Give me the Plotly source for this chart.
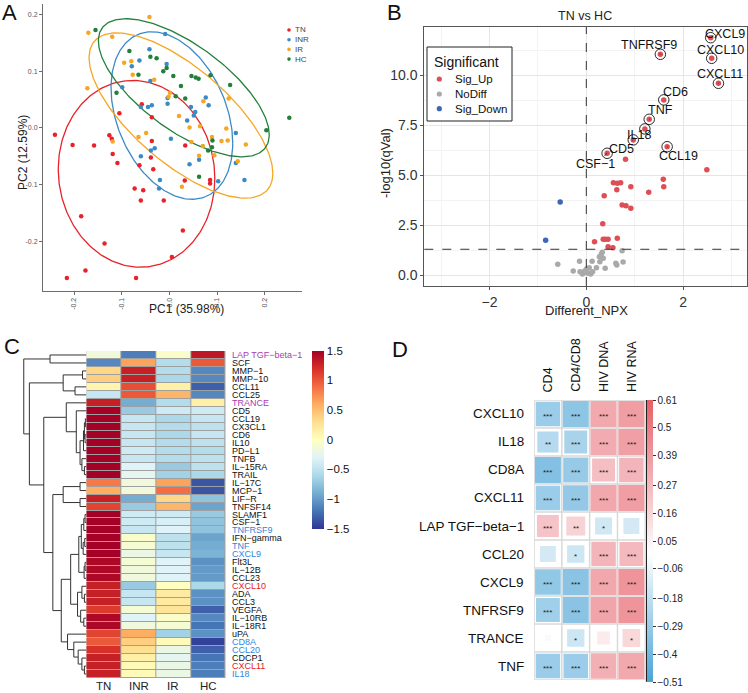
import numpy as np
import plotly.graph_objects as go

W, H = 748, 693
FONT = "Liberation Sans, Arial, Helvetica, sans-serif"


def px(x):
    return x / W


def py(y):
    return 1 - y / H


# ---------------- Panel A : PCA ----------------
pca_groups = ["TN", "INR", "IR", "HC"]
pca_colors = ["#E8212B", "#3A8AC6", "#F5A623", "#23803C"]
tn_pc1 = [-0.240, -0.203, -0.158, -0.126, -0.121, -0.119, -0.109, -0.105, -0.058, -0.037,
          -0.037, -0.039, -0.034, -0.063, -0.073, -0.055, -0.060, -0.012, 0.033, 0.032,
          0.085, 0.085, -0.185, -0.136, 0.028, 0.005, -0.215, -0.176, -0.070]
tn_pc2 = [-0.012, -0.030, -0.031, -0.013, -0.019, -0.046, -0.062, 0.026, 0.042, 0.019,
          -0.023, -0.052, -0.073, -0.066, -0.107, -0.110, -0.128, -0.128, -0.031, -0.093,
          -0.092, -0.098, -0.156, -0.204, -0.181, -0.228, -0.265, -0.252, -0.265]
inr_pc1 = [-0.009, -0.042, -0.063, -0.079, -0.099, -0.006, -0.004, -0.004, 0.076, 0.082,
           -0.045, -0.037, -0.060, 0.054, 0.051, 0.045, 0.037, 0.003, -0.031, -0.039,
           -0.060, -0.020, -0.022, 0.042, 0.062, 0.102, 0.139, 0.157, 0.139, -0.040]
inr_pc2 = [0.166, 0.139, 0.119, 0.109, 0.072, 0.113, 0.053, 0.043, 0.054, 0.040,
           0.037, 0.040, 0.037, 0.028, 0.022, 0.037, 0.013, -0.019, -0.036, -0.040,
           -0.050, -0.092, -0.107, -0.064, -0.056, -0.094, -0.062, -0.092, -0.009, 0.083]
ir_pc1 = [-0.042, -0.170, -0.120, -0.172, -0.095, -0.080, -0.077, -0.032, -0.065, -0.049,
          -0.119, 0.001, -0.002, 0.020, 0.042, 0.064, 0.046, 0.070, 0.062, 0.089,
          0.094, 0.109, 0.119, 0.122, 0.143, 0.160, 0.124, 0.026, 0.071]
ir_pc2 = [0.196, 0.168, 0.161, 0.070, 0.115, 0.118, 0.094, 0.085, -0.016, -0.009,
          -0.024, 0.062, 0.055, 0.021, 0.001, 0.003, -0.025, -0.032, -0.049, -0.016,
          -0.048, -0.023, -0.001, -0.022, -0.059, -0.029, 0.052, -0.104, 0.047]
hc_pc1 = [-0.155, -0.084, -0.040, -0.027, -0.065, -0.013, -0.006, 0.008, 0.024, 0.033,
          0.046, 0.055, 0.061, 0.086, 0.127, -0.111, 0.251, 0.203, 0.090, 0.089,
          0.081, 0.062, 0.013]
hc_pc2 = [0.173, 0.136, 0.126, 0.123, 0.094, 0.100, 0.106, 0.092, 0.074, 0.052,
          0.092, 0.089, 0.087, 0.093, 0.076, 0.062, 0.018, -0.004, -0.022, -0.034,
          -0.040, -0.086, 0.056]
# confidence ellipses: centre, half-width, half-height, tilt (cos of phase)
ell_cx = [-0.069, 0.005, 0.024, 0.030]
ell_cy = [-0.081, 0.022, 0.022, 0.071]
ell_rx = [0.164, 0.1275, 0.1925, 0.179]
ell_ry = [0.165, 0.148, 0.146, 0.122]
ell_tilt = [-0.05, -0.33, -0.70, -0.68]
pca_ticks = [-0.2, -0.1, 0.0, 0.1, 0.2]

# ---------------- Panel B : volcano ----------------
lab_names = ["CXCL9", "CXCL10", "CXCL11", "TNFRSF9", "CD6", "TNF", "IL18", "CD5", "CSF−1", "CCL19"]
lab_npx = [2.57, 2.59, 2.73, 1.53, 1.60, 1.30, 1.21, 0.97, 0.43, 1.67]
lab_q = [11.88, 10.85, 9.60, 11.05, 8.77, 7.80, 7.32, 6.77, 6.10, 6.43]
up_npx = [0.81, 2.49, 1.59, 1.60, 0.56, 0.64, 0.71, 0.63, 0.92, 1.29, 0.37, 0.74, 0.82,
          0.92, 0.34, 0.17, 0.35, 0.39, 0.45, 0.64, 0.45, 0.55]
up_q = [5.80, 5.28, 4.80, 4.43, 4.63, 4.60, 4.63, 4.28, 4.43, 4.15, 3.98, 3.52, 3.48,
        3.35, 2.58, 1.68, 1.80, 1.80, 1.80, 1.85, 1.43, 1.38]
nd_npx = [-0.59, -0.27, -0.13, -0.08, -0.05, 0.04, 0.09, 0.13, 0.21, -0.14, 0.12, 0.28,
          0.31, 0.27, 0.35, 0.39, 0.63, 0.61, 0.76, 0.74, 0.06, 0.01, -0.03, 0.33]
nd_q = [0.55, 0.22, 0.18, 0.07, 0.13, 0.10, 0.07, 0.18, 0.38, 0.70, 0.70, 0.68,
        1.07, 0.93, 0.85, 0.35, 0.52, 0.60, 0.67, 1.23, 0.38, 0.33, 0.23, 1.15]
down_npx = [-0.54, -0.84]
down_q = [3.67, 1.75]
q_cut = -np.log10(0.05)

# ---------------- Panel C : heatmap ----------------
hm_rows = ["LAP TGF−beta−1", "SCF", "MMP−1", "MMP−10", "CCL11", "CCL25", "TRANCE", "CD5",
           "CCL19", "CX3CL1", "CD6", "IL10", "PD−L1", "TNFB", "IL−15RA", "TRAIL", "IL−17C",
           "MCP−1", "LIF−R", "TNFSF14", "SLAMF1", "CSF−1", "TNFRSF9", "IFN−gamma", "TNF",
           "CXCL9", "Flt3L", "IL−12B", "CCL23", "CXCL10", "ADA", "CCL3", "VEGFA", "IL−10RB",
           "IL−18R1", "uPA", "CD8A", "CCL20", "CDCP1", "CXCL11", "IL18"]
hm_row_colors = ["#A83CB0", "#111", "#111", "#111", "#111", "#111", "#A83CB0", "#111",
                 "#111", "#111", "#111", "#111", "#111", "#111", "#111", "#111", "#111",
                 "#111", "#111", "#111", "#111", "#111", "#2E86DE", "#111", "#2E86DE",
                 "#2E86DE", "#111", "#111", "#111", "#E41A1C", "#111", "#111", "#111", "#111",
                 "#111", "#111", "#2E86DE", "#2E86DE", "#111", "#E41A1C", "#2E86DE"]
hm_cols = ["TN", "INR", "IR", "HC"]
hm_TN = [-0.15, -1.1, 0.35, 0.4, 0.1, -0.45, 1.3, 1.5, 1.5, 1.5, 1.5, 1.5, 1.5, 1.5, 1.5, 1.5,
         0.85, 0.6, 1.3, 1.1, 1.5, 1.5, 1.5, 1.5, 1.5, 1.5, 1.45, 1.45, 1.45, 1.3, 1.3, 1.3,
         1.15, 1.45, 1.45, 1.1, 1.0, 1.2, 1.3, 1.3, 1.3]
hm_INR = [-1.15, 0.65, 1.3, 1.3, 1.05, 1.0, -0.9, -0.7, -0.45, -0.45, -0.45, -0.45, -0.4,
          -0.45, -0.3, -0.25, -0.15, -0.15, -0.9, -0.7, -0.4, -0.4, -0.45, -0.05, -0.1, -0.2,
          -0.1, -0.15, -0.15, -0.7, -0.45, -0.45, -0.1, -0.3, -0.15, 0.6, 0.4, 0.3, 0.15,
          0.05, 0.05]
hm_IR = [-0.05, -0.55, -0.55, -0.6, 0.15, 0.55, -0.55, -0.4, -0.6, -0.55, -0.6, -0.55, -0.55,
         -0.55, -0.7, -0.65, 0.65, 0.9, 0.35, 0.55, -0.4, -0.35, -0.3, -0.5, -0.5, -0.45,
         -0.3, -0.3, -0.3, 0.0, 0.2, 0.2, 0.25, -0.05, -0.1, -0.65, 0.05, -0.2, -0.25, -0.2,
         -0.2]
hm_HC = [1.35, 1.0, -1.1, -1.1, -1.3, -1.1, 0.15, -0.4, -0.45, -0.5, -0.45, -0.5, -0.55, -0.5,
         -0.5, -0.6, -1.35, -1.35, -0.75, -0.95, -0.7, -0.75, -0.75, -0.95, -0.9, -0.85, -1.05,
         -1.0, -1.0, -0.6, -1.05, -1.05, -1.3, -1.1, -1.2, -1.05, -1.45, -1.3, -1.2, -1.15,
         -1.15]
hm_ticks = [1.5, 1, 0.5, 0, -0.5, -1, -1.5]
# row dendrogram, hclust style merge table (negative = leaf, positive = earlier merge)
dend_left = [-3, -5, 1, -1, -9, -11, 5, 7, -15, -14, 8, -8, -7, -17, -19, 14, -21, -23, -24,
             -26, 18, -27, -29, 21, -31, -30, -34, -33, 26, 24, -40, -39, -38, -37, -36, 30,
             16, 13, 3, 4]
dend_right = [-4, -6, 2, -2, -10, -12, 6, -13, -16, 9, 10, 11, 12, -18, -20, 15, -22, 17, -25,
              19, 20, -28, 22, 23, -32, 25, -35, 27, 28, 29, -41, 31, 32, 33, 34, 35, 36, 37,
              38, 39]
dend_height = [0.06, 0.18, 0.37, 0.58, 0.015, 0.02, 0.03, 0.045, 0.03, 0.07, 0.10, 0.16, 0.32,
               0.10, 0.10, 0.37, 0.02, 0.04, 0.025, 0.05, 0.08, 0.02, 0.035, 0.12, 0.03, 0.07,
               0.04, 0.09, 0.14, 0.25, 0.03, 0.07, 0.13, 0.20, 0.30, 0.40, 0.535, 0.68, 0.91,
               1.0]

# ---------------- Panel D : correlation ----------------
cor_rows = ["CXCL10", "IL18", "CD8A", "CXCL11", "LAP TGF−beta−1", "CCL20", "CXCL9", "TNFRSF9",
            "TRANCE", "TNF"]
cor_cols = ["CD4", "CD4/CD8", "HIV DNA", "HIV RNA"]
r_CD4 = [-0.40, -0.30, -0.50, -0.40, 0.32, -0.17, -0.44, -0.38, -0.03, -0.40]
r_CD4CD8 = [-0.46, -0.35, -0.42, -0.43, 0.24, -0.20, -0.47, -0.47, -0.20, -0.40]
r_DNA = [0.47, 0.45, 0.35, 0.48, -0.19, 0.40, 0.48, 0.49, 0.11, 0.43]
r_RNA = [0.53, 0.52, 0.40, 0.53, -0.17, 0.38, 0.58, 0.58, 0.21, 0.47]
p_CD4 = ["***", "**", "***", "***", "***", "", "***", "***", "", "***"]
p_CD4CD8 = ["***", "***", "***", "***", "**", "*", "***", "***", "*", "***"]
p_DNA = ["***", "***", "***", "***", "*", "***", "***", "***", "", "***"]
p_RNA = ["***", "***", "***", "***", "", "***", "***", "***", "*", "***"]
cor_min, cor_max = -0.51, 0.61
cor_ticks = [0.61, 0.5, 0.39, 0.27, 0.16, 0.05, -0.06, -0.18, -0.29, -0.4, -0.51]


def fmt(v):
    s = ("%g" % v)
    return s.replace("-", "−")


fig = go.Figure()
ann = []
shapes = []

# ===== Panel A =====
t = np.linspace(0, 2 * np.pi, 240)
pts = [(tn_pc1, tn_pc2), (inr_pc1, inr_pc2), (ir_pc1, ir_pc2), (hc_pc1, hc_pc2)]
for i, g in enumerate(pca_groups):
    phi = np.arccos(ell_tilt[i])
    ex = ell_cx[i] + ell_rx[i] * np.cos(t)
    ey = ell_cy[i] + ell_ry[i] * np.cos(t - phi)
    fig.add_trace(go.Scatter(x=ex, y=ey, mode="lines", line=dict(color=pca_colors[i], width=1.3),
                             showlegend=False, hoverinfo="skip", xaxis="x", yaxis="y"))
for i, g in enumerate(pca_groups):
    fig.add_trace(go.Scatter(x=pts[i][0], y=pts[i][1], mode="markers", name=g,
                             marker=dict(color=pca_colors[i], size=4.5),
                             showlegend=False, xaxis="x", yaxis="y"))
for i, g in enumerate(pca_groups):
    yy = 30 + i * 9.7
    shapes.append(dict(type="circle", xref="paper", yref="paper", x0=px(287.2), x1=px(290.8),
                       y0=py(yy + 1.8), y1=py(yy - 1.8), fillcolor=pca_colors[i], line=dict(width=0)))
    ann.append(dict(text=g, x=px(292.5), y=py(yy), xref="paper", yref="paper", showarrow=False,
                    xanchor="left", yanchor="middle", font=dict(size=8, color="#444")))
ann.append(dict(text="PC1 (35.98%)", x=px(186), y=py(309), xref="paper", yref="paper",
                showarrow=False, font=dict(size=12, color="#222")))
ann.append(dict(text="PC2 (12.59%)", x=px(23), y=py(153), xref="paper", yref="paper",
                showarrow=False, textangle=-90, font=dict(size=12, color="#222")))

# ===== Panel B =====
fig.add_trace(go.Scatter(x=nd_npx, y=nd_q, mode="markers", marker=dict(color="#A9A9A9", size=5.5),
                         showlegend=False, xaxis="x2", yaxis="y2"))
fig.add_trace(go.Scatter(x=down_npx, y=down_q, mode="markers", marker=dict(color="#3D66B5", size=5.5),
                         showlegend=False, xaxis="x2", yaxis="y2"))
fig.add_trace(go.Scatter(x=up_npx + lab_npx, y=up_q + lab_q, mode="markers",
                         marker=dict(color="#DE4E55", size=5.5),
                         showlegend=False, xaxis="x2", yaxis="y2"))
fig.add_trace(go.Scatter(x=lab_npx, y=lab_q, mode="markers",
                         marker=dict(color="rgba(0,0,0,0)", size=10.5, line=dict(color="#111", width=0.9)),
                         showlegend=False, xaxis="x2", yaxis="y2", hoverinfo="skip"))
lab_off = {"CXCL9": (14, -4), "CXCL10": (9, -8), "CXCL11": (2, -9), "TNFRSF9": (-11, -9),
           "CD6": (12, -8), "TNF": (11, -9), "IL18": (-6, 6), "CD5": (-12, 9), "CSF−1": (-12, 11),
           "CCL19": (11, 9)}
for n, xv, yv in zip(lab_names, lab_npx, lab_q):
    dx, dy = lab_off[n]
    ann.append(dict(text=n, x=xv, y=yv, xref="x2", yref="y2", showarrow=True, arrowhead=0,
                    arrowwidth=0.8, arrowcolor="#111", ax=dx, ay=dy, standoff=0,
                    font=dict(size=12.5, color="#111")))
shapes.append(dict(type="line", xref="x2", yref="y2 domain", x0=0, x1=0, y0=0, y1=1,
                   line=dict(color="#333", width=1, dash="dash")))
shapes.append(dict(type="line", xref="x2 domain", yref="y2", x0=0, x1=1, y0=q_cut, y1=q_cut,
                   line=dict(color="#333", width=1, dash="dash")))
ann.append(dict(text="TN vs HC", x=px(585), y=py(16), xref="paper", yref="paper", showarrow=False,
                font=dict(size=12.5, color="#222")))
ann.append(dict(text="-log10(qVal)", x=px(385), y=py(163), xref="paper", yref="paper",
                showarrow=False, textangle=-90, font=dict(size=13, color="#222")))
ann.append(dict(text="Different_NPX", x=px(586.7), y=py(311), xref="paper", yref="paper",
                showarrow=False, font=dict(size=13, color="#222")))
# legend box
shapes.append(dict(type="rect", xref="paper", yref="paper", x0=px(427), x1=px(512), y0=py(121),
                   y1=py(47), line=dict(color="#222", width=1), fillcolor="white"))
ann.append(dict(text="Significant", x=px(432), y=py(61.5), xref="paper", yref="paper",
                showarrow=False, xanchor="left", font=dict(size=14, color="#111")))
for lbl, col, yy in [("Sig_Up", "#DE4E55", 79), ("NoDiff", "#A9A9A9", 94), ("Sig_Down", "#3D66B5", 108.7)]:
    shapes.append(dict(type="circle", xref="paper", yref="paper", x0=px(436.7), x1=px(441.9),
                       y0=py(yy + 2.6), y1=py(yy - 2.6), fillcolor=col, line=dict(width=0)))
    ann.append(dict(text=lbl, x=px(453), y=py(yy), xref="paper", yref="paper", showarrow=False,
                    xanchor="left", font=dict(size=11.5, color="#111")))

# ===== Panel C =====
z = [[a, b, c, d] for a, b, c, d in zip(hm_TN, hm_INR, hm_IR, hm_HC)]
rdylbu = ["#313695", "#4575B4", "#74ADD1", "#ABD9E9", "#E0F3F8", "#FFFFBF", "#FEE090",
          "#FDAE61", "#F46D43", "#D73027", "#A50026"]
cs = [[i / 10, c] for i, c in enumerate(rdylbu)]
shapes.append(dict(type="rect", xref="x3", yref="y3", x0=-0.5, x1=3.5, y0=-0.5, y1=len(hm_rows) - 0.5,
                   fillcolor="#A0A0A0", line=dict(width=0), layer="below"))
fig.add_trace(go.Heatmap(z=z, x=list(range(4)), y=list(range(len(hm_rows))), colorscale=cs,
                         zmin=-1.5, zmax=1.5, xgap=1, ygap=1, xaxis="x3", yaxis="y3",
                         colorbar=dict(x=px(311.7), xanchor="left", y=py(350.7), yanchor="top",
                                       len=177.6 / H, lenmode="fraction", thickness=11.6,
                                       thicknessmode="pixels", xpad=0, ypad=0, outlinewidth=0,
                                       tickvals=hm_ticks, ticktext=[fmt(v) for v in hm_ticks],
                                       ticks="", tickfont=dict(size=11.5, color="#111"))))
for i, (n, c) in enumerate(zip(hm_rows, hm_row_colors)):
    ann.append(dict(text=n, x=px(229.5), y=i, xref="paper", yref="y3", showarrow=False,
                    xanchor="left", yanchor="middle", font=dict(size=9, color=c)))
for j, n in enumerate(hm_cols):
    ann.append(dict(text=n, x=j, y=py(685.5), xref="x3", yref="paper", showarrow=False,
                    yanchor="middle", font=dict(size=11.5, color="#222")))
# dendrogram
pos, hgt = {}, {}
dx_, dy_ = [], []
for k, (a, b, h) in enumerate(zip(dend_left, dend_right, dend_height), start=1):
    ya, ha = (-a - 1, 0.0) if a < 0 else (pos[a], hgt[a])
    yb, hb = (-b - 1, 0.0) if b < 0 else (pos[b], hgt[b])
    dx_ += [ha, h, h, hb, None]
    dy_ += [ya, ya, yb, yb, None]
    pos[k] = (ya + yb) / 2
    hgt[k] = h
fig.add_trace(go.Scatter(x=dx_, y=dy_, mode="lines", line=dict(color="#333", width=1),
                         showlegend=False, hoverinfo="skip", xaxis="x4", yaxis="y4"))

# ===== Panel D =====
R = [r_CD4, r_CD4CD8, r_DNA, r_RNA]
P = [p_CD4, p_CD4CD8, p_DNA, p_RNA]
cx, cy, cr, csz = [], [], [], []
for j in range(4):
    for i in range(len(cor_rows)):
        v = R[j][i]
        cx.append(j)
        cy.append(i)
        cr.append(v)
        csz.append(26 * min(1.0, np.sqrt(abs(v) / 0.45)))
mid = (0 - cor_min) / (cor_max - cor_min)
cor_cs = [[0, "#4AA3D6"], [mid, "#FFFFFF"], [1, "#E65F68"]]
fig.add_trace(go.Scatter(x=cx, y=cy, mode="markers", xaxis="x5", yaxis="y5", showlegend=False,
                         marker=dict(symbol="square", size=csz, color=cr, colorscale=cor_cs,
                                     cmin=cor_min, cmax=cor_max, line=dict(width=0),
                                     colorbar=dict(x=px(646.7), xanchor="left", y=py(400), yanchor="top",
                                                   len=281.7 / H, lenmode="fraction", thickness=6,
                                                   thicknessmode="pixels", xpad=0, ypad=0,
                                                   outlinewidth=0, tickvals=cor_ticks,
                                                   ticktext=[fmt(v) for v in cor_ticks],
                                                   ticks="outside", ticklen=3, tickcolor="#333",
                                                   tickfont=dict(size=10, color="#222")))))
for j in range(4):
    for i in range(len(cor_rows)):
        if P[j][i]:
            ann.append(dict(text=P[j][i], x=j, y=i, xref="x5", yref="y5", showarrow=False,
                            yshift=-2.5, font=dict(size=8, color="#222")))
for i, n in enumerate(cor_rows):
    ann.append(dict(text=n, x=px(526), y=i, xref="paper", yref="y5", showarrow=False,
                    xanchor="right", yanchor="middle", font=dict(size=13.5, color="#111")))
for j, n in enumerate(cor_cols):
    ann.append(dict(text=n, x=j, y=py(394), xref="x5", yref="paper", showarrow=False,
                    textangle=-90, yanchor="bottom", font=dict(size=12.5, color="#111")))
for k in range(5):
    shapes.append(dict(type="line", xref="x5", yref="y5", x0=k - 0.5, x1=k - 0.5, y0=-0.5,
                       y1=len(cor_rows) - 0.5, line=dict(color="#D9D9D9", width=1.5), layer="below"))
for k in range(len(cor_rows) + 1):
    shapes.append(dict(type="line", xref="x5", yref="y5", x0=-0.5, x1=3.5, y0=k - 0.5,
                       y1=k - 0.5, line=dict(color="#D9D9D9", width=1.5), layer="below"))
shapes.append(dict(type="line", xref="paper", yref="paper", x0=px(646.5), x1=px(646.5),
                   y0=py(400), y1=py(681.7), line=dict(color="#222", width=1.2)))

# panel letters
for L, xx, yy in [("A", 9, 13), ("B", 394, 13), ("C", 12, 346), ("D", 400, 349)]:
    ann.append(dict(text=L, x=px(xx), y=py(yy), xref="paper", yref="paper", showarrow=False,
                    font=dict(size=22, color="#111")))

# explicit anchors (plotly's "auto" anchoring would shift paper-referenced texts)
for a in ann:
    if not a.get("showarrow"):
        a.setdefault("xanchor", "center")
        a.setdefault("yanchor", "middle")

noax = dict(showgrid=False, zeroline=False, showticklabels=False, ticks="", showline=False)
fig.update_layout(
    width=W, height=H, margin=dict(l=0, r=0, t=0, b=0, pad=0, autoexpand=False),
    paper_bgcolor="white",
    plot_bgcolor="rgba(0,0,0,0)", font=dict(family=FONT), showlegend=False,
    xaxis=dict(domain=[px(43), px(301.7)], range=[-0.265, 0.277], anchor="y", showline=True,
               linecolor="#6E6E6E", ticks="outside", ticklen=3, tickcolor="#6E6E6E",
               tickvals=pca_ticks, ticktext=["-0.2", "-0.1", "0.0", "0.1", "0.2"], tickangle=-90,
               tickfont=dict(size=7, color="#555"), showgrid=False, zeroline=False),
    yaxis=dict(domain=[py(291), py(4)], range=[-0.288, 0.219], anchor="x", showline=True,
               linecolor="#6E6E6E", ticks="outside", ticklen=3, tickcolor="#6E6E6E",
               tickvals=pca_ticks, ticktext=["-0.2", "-0.1", "0.0", "0.1", "0.2"],
               tickfont=dict(size=7, color="#555"), showgrid=False, zeroline=False),
    xaxis2=dict(domain=[px(424.3), px(747)], range=[-3.347, 3.32], anchor="y2", showline=True,
                mirror=True, linecolor="#555", linewidth=1, ticks="outside", ticklen=3,
                tickcolor="#555", tick0=0, dtick=2, tickfont=dict(size=14, color="#333"),
                showgrid=True, gridcolor="#E6E6E6", zeroline=False,
                minor=dict(dtick=1, showgrid=True, gridcolor="#F3F3F3")),
    yaxis2=dict(domain=[py(286), py(27)], range=[-0.535, 12.415], anchor="x2", showline=True,
                mirror=True, linecolor="#555", linewidth=1, ticks="outside", ticklen=3,
                tickcolor="#555", tick0=0, dtick=2.5, tickformat=".1f",
                tickfont=dict(size=14, color="#333"), showgrid=True, gridcolor="#E6E6E6",
                zeroline=False, minor=dict(dtick=1.25, showgrid=True, gridcolor="#F3F3F3")),
    xaxis3=dict(domain=[px(86.3), px(225.7)], range=[-0.5, 3.5], anchor="y3", **noax),
    yaxis3=dict(domain=[py(678), py(351)], range=[len(hm_rows) - 0.5, -0.5], anchor="x3", **noax),
    xaxis4=dict(domain=[px(22.5), px(86.3)], range=[1.02, 0], anchor="y4", **noax),
    yaxis4=dict(domain=[py(678), py(351)], range=[len(hm_rows) - 0.5, -0.5], anchor="x4", **noax),
    xaxis5=dict(domain=[px(534), px(645.3)], range=[-0.5, 3.5], anchor="y5", **noax),
    yaxis5=dict(domain=[py(680), py(400)], range=[len(cor_rows) - 0.5, -0.5], anchor="x5", **noax),
    annotations=ann, shapes=shapes,
)
fig.write_html("out.html", config={"displayModeBar": False},
               post_script="document.body.style.margin='0px';")
